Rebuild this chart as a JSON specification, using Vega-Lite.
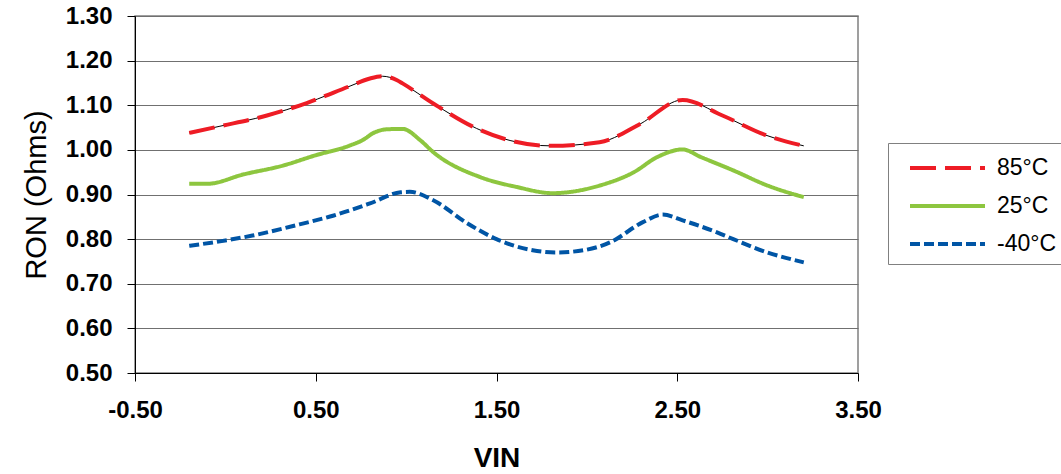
{
  "$schema": "https://vega.github.io/schema/vega-lite/v6.json",
  "width": 723,
  "height": 357,
  "autosize": {"type": "none"},
  "padding": {"left": 135, "top": 16, "right": 203, "bottom": 101},
  "background": "white",
  "config": {
    "view": {"stroke": "#808080", "strokeWidth": 1.5},
    "font": "Liberation Sans"
  },
  "data": {
    "values": [
      {"V": -0.2, "R": 1.038, "T": "85°C"},
      {"V": -0.03, "R": 1.053, "T": "85°C"},
      {"V": 0.23, "R": 1.077, "T": "85°C"},
      {"V": 0.45, "R": 1.105, "T": "85°C"},
      {"V": 0.69, "R": 1.143, "T": "85°C"},
      {"V": 0.8, "R": 1.16, "T": "85°C"},
      {"V": 0.87, "R": 1.165, "T": "85°C"},
      {"V": 0.95, "R": 1.156, "T": "85°C"},
      {"V": 0.98, "R": 1.149, "T": "85°C"},
      {"V": 1.15, "R": 1.104, "T": "85°C"},
      {"V": 1.39, "R": 1.048, "T": "85°C"},
      {"V": 1.575, "R": 1.021, "T": "85°C"},
      {"V": 1.8, "R": 1.009, "T": "85°C"},
      {"V": 2.07, "R": 1.017, "T": "85°C"},
      {"V": 2.29, "R": 1.057, "T": "85°C"},
      {"V": 2.53, "R": 1.112, "T": "85°C"},
      {"V": 2.75, "R": 1.077, "T": "85°C"},
      {"V": 2.99, "R": 1.033, "T": "85°C"},
      {"V": 3.2, "R": 1.009, "T": "85°C"},
      {"V": -0.2, "R": 0.924, "T": "25°C"},
      {"V": -0.1, "R": 0.924, "T": "25°C"},
      {"V": 0.1, "R": 0.945, "T": "25°C"},
      {"V": 0.32, "R": 0.965, "T": "25°C"},
      {"V": 0.5, "R": 0.988, "T": "25°C"},
      {"V": 0.69, "R": 1.01, "T": "25°C"},
      {"V": 0.76, "R": 1.022, "T": "25°C"},
      {"V": 0.82, "R": 1.038, "T": "25°C"},
      {"V": 0.89, "R": 1.046, "T": "25°C"},
      {"V": 0.98, "R": 1.047, "T": "25°C"},
      {"V": 1.08, "R": 1.021, "T": "25°C"},
      {"V": 1.15, "R": 0.995, "T": "25°C"},
      {"V": 1.41, "R": 0.939, "T": "25°C"},
      {"V": 1.61, "R": 0.917, "T": "25°C"},
      {"V": 1.81, "R": 0.903, "T": "25°C"},
      {"V": 2.07, "R": 0.92, "T": "25°C"},
      {"V": 2.26, "R": 0.95, "T": "25°C"},
      {"V": 2.39, "R": 0.984, "T": "25°C"},
      {"V": 2.53, "R": 1.001, "T": "25°C"},
      {"V": 2.63, "R": 0.984, "T": "25°C"},
      {"V": 2.81, "R": 0.954, "T": "25°C"},
      {"V": 3.0, "R": 0.92, "T": "25°C"},
      {"V": 3.2, "R": 0.894, "T": "25°C"},
      {"V": -0.2, "R": 0.785, "T": "-40°C"},
      {"V": -0.03, "R": 0.795, "T": "-40°C"},
      {"V": 0.15, "R": 0.808, "T": "-40°C"},
      {"V": 0.41, "R": 0.833, "T": "-40°C"},
      {"V": 0.6, "R": 0.853, "T": "-40°C"},
      {"V": 0.8, "R": 0.88, "T": "-40°C"},
      {"V": 0.97, "R": 0.905, "T": "-40°C"},
      {"V": 1.02, "R": 0.906, "T": "-40°C"},
      {"V": 1.15, "R": 0.887, "T": "-40°C"},
      {"V": 1.34, "R": 0.835, "T": "-40°C"},
      {"V": 1.5, "R": 0.8, "T": "-40°C"},
      {"V": 1.7, "R": 0.775, "T": "-40°C"},
      {"V": 1.83, "R": 0.77, "T": "-40°C"},
      {"V": 1.98, "R": 0.775, "T": "-40°C"},
      {"V": 2.13, "R": 0.793, "T": "-40°C"},
      {"V": 2.31, "R": 0.838, "T": "-40°C"},
      {"V": 2.42, "R": 0.855, "T": "-40°C"},
      {"V": 2.53, "R": 0.842, "T": "-40°C"},
      {"V": 2.72, "R": 0.815, "T": "-40°C"},
      {"V": 2.81, "R": 0.8, "T": "-40°C"},
      {"V": 3.0, "R": 0.77, "T": "-40°C"},
      {"V": 3.2, "R": 0.748, "T": "-40°C"}
    ]
  },
  "encoding": {
    "x": {
      "field": "V",
      "type": "quantitative",
      "scale": {"domain": [-0.5, 3.5], "nice": false, "zero": false},
      "axis": {
        "values": [-0.5, 0.5, 1.5, 2.5, 3.5],
        "format": ".2f",
        "labelExpr": "replace(datum.label, '−', '-')",
        "grid": false,
        "title": "VIN",
        "tickSize": 8,
        "tickColor": "#000",
        "domainColor": "#000",
        "labelFontSize": 24,
        "labelFontWeight": "bold",
        "labelColor": "#000",
        "labelPadding": 17,
        "labelFlush": false,
        "titleFontSize": 28,
        "titleFontWeight": "bold",
        "titleColor": "#000",
        "titlePadding": 22
      }
    },
    "y": {
      "field": "R",
      "type": "quantitative",
      "scale": {"domain": [0.5, 1.3], "nice": false, "zero": false},
      "axis": {
        "values": [0.5, 0.6, 0.7, 0.8, 0.9, 1.0, 1.1, 1.2, 1.3],
        "format": ".2f",
        "grid": true,
        "gridColor": "#707070",
        "gridOpacity": 1,
        "gridWidth": 1.2,
        "tickSize": 8,
        "tickColor": "#000",
        "domainColor": "#000",
        "labelFontSize": 24,
        "labelFontWeight": "bold",
        "labelColor": "#000",
        "labelPadding": 15,
        "title": "RON (Ohms)",
        "titleFontSize": 29,
        "titleFontWeight": "normal",
        "titleColor": "#000",
        "titlePadding": 14
      }
    }
  },
  "layer": [
    {
      "transform": [{"filter": "datum.T === '85°C'"}],
      "mark": {"type": "line", "interpolate": "monotone", "color": "#000", "strokeWidth": 1}
    },
    {
      "mark": {"type": "line", "interpolate": "monotone", "strokeWidth": 4},
      "encoding": {
        "color": {
          "field": "T",
          "type": "nominal",
          "sort": ["85°C", "25°C", "-40°C"],
          "scale": {"domain": ["85°C", "25°C", "-40°C"], "range": ["#ee1c25", "#8dc63f", "#0055a5"]},
          "legend": {
            "title": null,
            "orient": "none",
            "legendX": 753,
            "legendY": 127,
            "symbolType": "M-0.2,0H4.8",
            "symbolSize": 900,
            "symbolStrokeWidth": 4,
            "symbolFillColor": "transparent",
            "labelFontSize": 23,
            "labelColor": "#000",
            "labelOffset": 67,
            "padding": 8,
            "rowPadding": 9,
            "strokeColor": "#808080",
            "fillColor": "white"
          }
        },
        "strokeDash": {
          "field": "T",
          "type": "nominal",
          "sort": ["85°C", "25°C", "-40°C"],
          "scale": {"domain": ["85°C", "25°C", "-40°C"], "range": [[26, 9], [1, 0], [10, 4]]},
          "legend": {
            "title": null,
            "orient": "none",
            "legendX": 753,
            "legendY": 127,
            "symbolType": "M-0.2,0H4.8",
            "symbolSize": 900,
            "symbolStrokeWidth": 4,
            "symbolFillColor": "transparent",
            "labelFontSize": 23,
            "labelColor": "#000",
            "labelOffset": 67,
            "padding": 8,
            "rowPadding": 9,
            "strokeColor": "#808080",
            "fillColor": "white"
          }
        }
      }
    }
  ]
}
